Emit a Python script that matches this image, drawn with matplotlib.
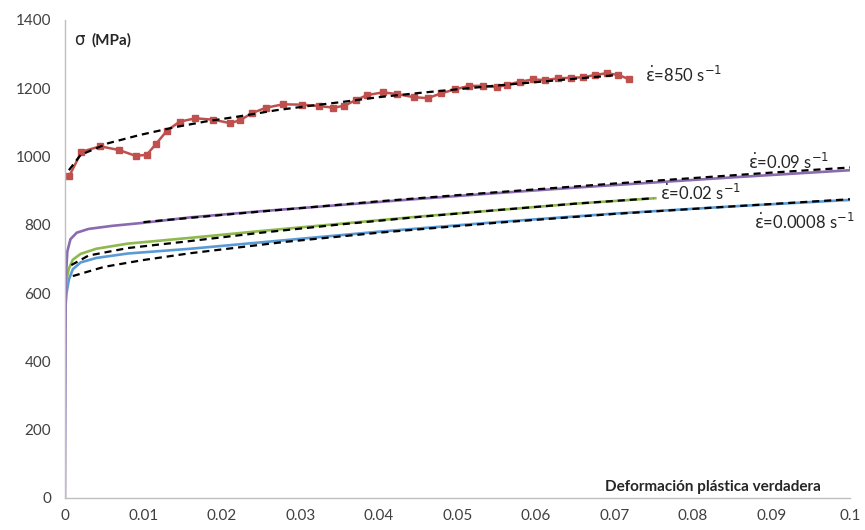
import matplotlib
matplotlib.use("Agg")
import matplotlib.pyplot as plt
from matplotlib.ticker import FuncFormatter

plt.rcParams['font.family'] = ['Lato', 'DejaVu Sans']
plt.rcParams['mathtext.fontset'] = 'dejavusans'

# 850 s-1 (Hopkinson bar) measured points
x_850 = [0.00055, 0.0021, 0.0045, 0.0069, 0.0090, 0.0104, 0.0116, 0.0130, 0.0146, 0.0166,
         0.0189, 0.0210, 0.0223, 0.0238, 0.0256, 0.0278, 0.0302, 0.0324, 0.0342, 0.0356,
         0.0371, 0.0385, 0.0405, 0.0423, 0.0444, 0.0462, 0.0479, 0.0497, 0.0515, 0.0533,
         0.0550, 0.0563, 0.0579, 0.0596, 0.0611, 0.0628, 0.0645, 0.0660, 0.0675, 0.0690,
         0.0705, 0.0718]
s_850 = [943, 1014, 1030, 1019, 1002, 1005, 1037, 1076, 1102, 1112,
         1108, 1098, 1106, 1127, 1143, 1153, 1152, 1148, 1143, 1149,
         1166, 1180, 1188, 1183, 1174, 1171, 1185, 1197, 1207, 1207,
         1203, 1210, 1219, 1226, 1224, 1229, 1231, 1232, 1239, 1244,
         1239, 1227]
fit_x_850 = [0.0005, 0.002, 0.0055, 0.0095, 0.014, 0.018, 0.022, 0.027, 0.031, 0.035,
             0.04, 0.045, 0.05, 0.055, 0.06, 0.065, 0.07]
fit_s_850 = [960, 1005, 1039, 1063, 1086, 1103, 1117, 1136, 1148, 1159,
             1174, 1186, 1197, 1208, 1218, 1228, 1238]

# 0.09 s-1
x_009 = [0, 0.0001, 0.0003, 0.0007, 0.0015, 0.003, 0.006, 0.01, 0.016, 0.025,
         0.035, 0.045, 0.055, 0.065, 0.075, 0.085, 0.1]
s_009 = [0, 640, 722, 758, 777, 788, 797, 806, 822, 840,
         858, 876, 893, 909, 924, 939, 960]
fit_x_009 = [0.01, 0.02, 0.03, 0.04, 0.05, 0.06, 0.07, 0.08, 0.09, 0.1]
fit_s_009 = [808, 829, 849, 869, 887, 904, 921, 937, 953, 968]

# 0.02 s-1
x_002 = [0, 0.0002, 0.0005, 0.001, 0.002, 0.004, 0.008, 0.016, 0.025, 0.035,
         0.045, 0.055, 0.065, 0.0752]
s_002 = [590, 640, 672, 698, 715, 730, 745, 762, 782, 803,
         824, 843, 862, 878]
fit_x_002 = [0.0008, 0.003, 0.008, 0.015, 0.025, 0.035, 0.045, 0.055, 0.065, 0.075]
fit_s_002 = [682, 710, 732, 750, 777, 801, 823, 843, 862, 878]

# 0.0008 s-1
x_0008 = [0, 0.0002, 0.0005, 0.001, 0.002, 0.004, 0.008, 0.016, 0.028, 0.04,
          0.055, 0.07, 0.085, 0.1]
s_0008 = [540, 600, 640, 670, 690, 703, 716, 730, 755, 780,
          808, 833, 854, 873]
fit_x_0008 = [0.001, 0.005, 0.01, 0.016, 0.028, 0.04, 0.055, 0.07, 0.085, 0.1]
fit_s_0008 = [650, 677, 697, 717, 750, 777, 806, 832, 854, 875]

fig = plt.figure(figsize=(8.65, 5.3), dpi=100)
ax = fig.add_axes([0.0751, 0.0604, 0.9076, 0.9019])

ax.plot(x_0008, s_0008, color='#5b9bd5', lw=1.9, zorder=2)
ax.plot(x_002, s_002, color='#8fb84e', lw=1.9, zorder=2)
ax.plot(x_009, s_009, color='#8a6bb0', lw=1.9, zorder=2)
ax.plot(x_850, s_850, color='#c0504d', lw=1.8, marker='s', ms=4.5, zorder=2)

dash = dict(color='black', lw=1.6, ls=(0, (3.2, 2.2)), zorder=3)
ax.plot(fit_x_0008, fit_s_0008, **dash)
ax.plot(fit_x_002, fit_s_002, **dash)
ax.plot(fit_x_009, fit_s_009, **dash)
ax.plot(fit_x_850, fit_s_850, **dash)

ax.set_xlim(0, 0.1)
ax.set_ylim(0, 1400)
ax.set_xticks([i / 100 for i in range(11)])
ax.set_yticks(range(0, 1401, 200))
ax.xaxis.set_major_formatter(FuncFormatter(lambda v, p: '%g' % round(v, 3)))
ax.tick_params(length=0, labelsize=11, colors='#404040', pad=8)
ax.tick_params(axis='y', pad=10)

for side in ['top', 'right']:
    ax.spines[side].set_visible(False)
for side in ['left', 'bottom']:
    ax.spines[side].set_color('#bfbfbf')
    ax.spines[side].set_linewidth(1.0)

ax.text(0.012, 0.958, 'σ', transform=ax.transAxes, fontsize=12, va='center',
        family=['DejaVu Sans'], color='#262626')
ax.text(0.034, 0.958, '(MPa)', transform=ax.transAxes, fontsize=11, va='center',
        fontweight='bold', color='#262626')
ax.text(0.963, 0.024, 'Deformación plástica verdadera', transform=ax.transAxes,
        fontsize=11, ha='right', va='center', fontweight='bold', color='#262626')

labels = [(0.0739, 1239, '850'), (0.0870, 985, '0.09'),
          (0.0758, 893, '0.02'), (0.0878, 809, '0.0008')]
for lx, ly, rate in labels:
    ax.text(lx, ly, r'$\dot{\mathrm{\varepsilon}}$=' + rate + r' s$^{-1}$', fontsize=12,
            va='center', ha='left', color='#262626')

fig.savefig('out.png', dpi=100)
